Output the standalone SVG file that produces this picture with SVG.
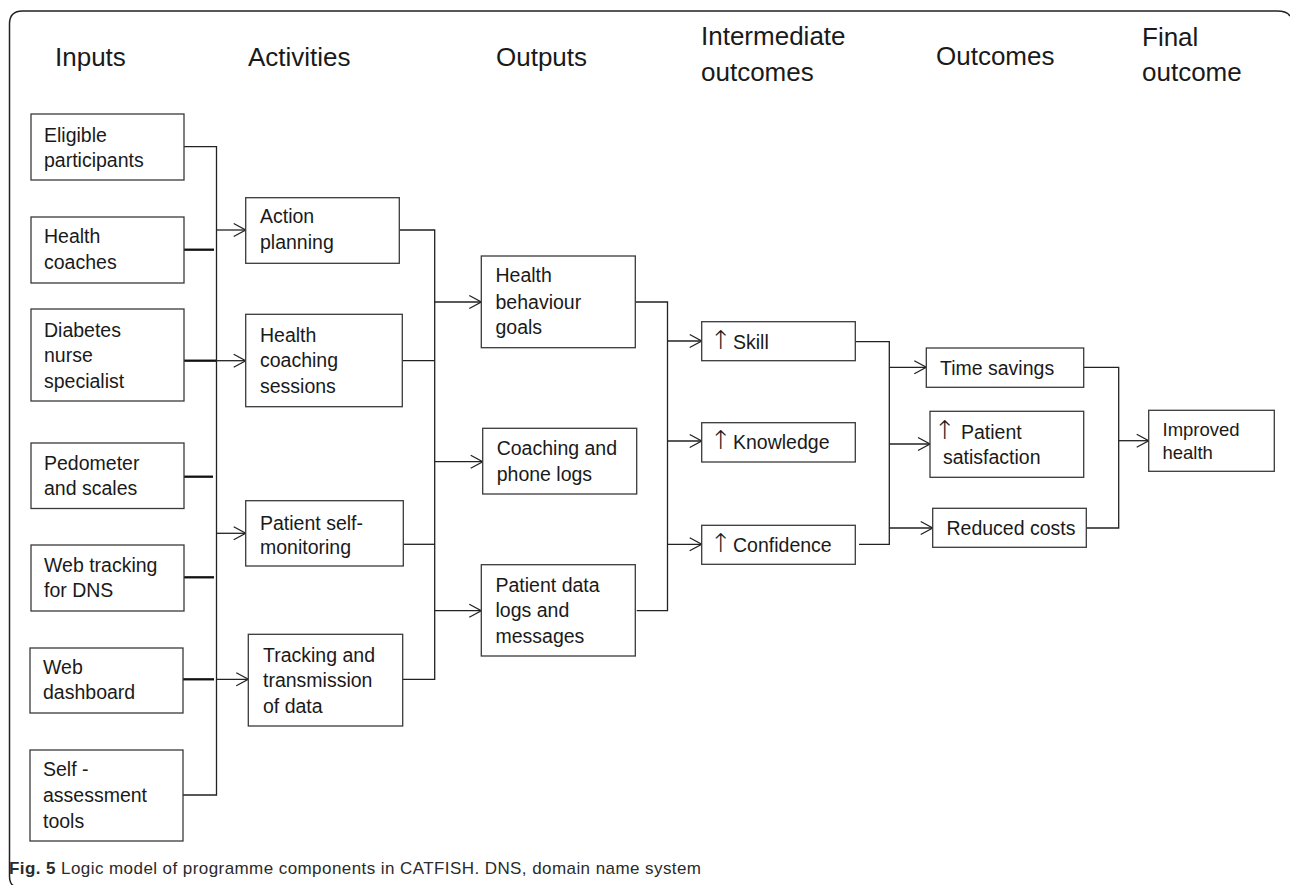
<svg xmlns="http://www.w3.org/2000/svg" width="1290" height="885" viewBox="0 0 1290 885">
<style>
  .box { fill: #ffffff; stroke: #3a3a3a; stroke-width: 1.3; }
  .t { font-family: "Liberation Sans", Arial, sans-serif; font-size: 19.5px; fill: #1a1a1a; }
  .ti { font-family: "Liberation Sans", Arial, sans-serif; font-size: 18.5px; fill: #1a1a1a; }
  .up { font-family: "DejaVu Sans", "Liberation Sans", sans-serif; font-size: 26px; font-weight: 200; fill: #1a1a1a; letter-spacing: -7px; }
  .h { font-family: "Liberation Sans", Arial, sans-serif; font-size: 26px; fill: #1a1a1a; }
  .ln { fill: none; stroke: #222222; stroke-width: 1.3; }
  .thick { fill: none; stroke: #111111; stroke-width: 2.3; }
  .arr { fill: none; stroke: #222222; stroke-width: 1.3; marker-end: url(#ah); }
  .cap { font-family: "Liberation Sans", Arial, sans-serif; font-size: 17px; fill: #2a2a2a; }
</style>
<defs>
  <marker id="ah" markerUnits="userSpaceOnUse" markerWidth="16" markerHeight="16" refX="12.5" refY="7" orient="auto" style="overflow:visible">
    <path d="M0.5,0.5 L12.5,7 L0.5,13.5" fill="none" stroke="#222222" stroke-width="1.3"/>
  </marker>
</defs>
<rect width="1290" height="885" fill="#ffffff"/>
<path id="frame" d="M14,886 Q9.5,884 9.5,876 V24 Q9.5,11 22.5,11 H1277 Q1287,11 1290,16" fill="none" stroke="#222222" stroke-width="1.5"/>

<g id="headers">
  <text class="h" x="55" y="66">Inputs</text>
  <text class="h" x="248" y="66">Activities</text>
  <text class="h" x="496" y="66">Outputs</text>
  <text class="h" x="701" y="45">Intermediate</text>
  <text class="h" x="701" y="81">outcomes</text>
  <text class="h" x="936" y="65">Outcomes</text>
  <text class="h" x="1142" y="46">Final</text>
  <text class="h" x="1142" y="81">outcome</text>
</g>

<g id="connectors">
  <path class="ln" d="M184,146.7 H216.5 V795 H183"/>
  <path class="thick" d="M184,249.7 H214"/>
  <path class="thick" d="M184,360.7 H216"/>
  <path class="thick" d="M184,476.7 H213"/>
  <path class="thick" d="M184,577.3 H214"/>
  <path class="thick" d="M183,679.3 H214"/>
  <path class="arr" d="M216.5,230 H245.7"/>
  <path class="arr" d="M216.5,360.7 H245.7"/>
  <path class="arr" d="M216.5,533.3 H245.7"/>
  <path class="arr" d="M216.5,679.3 H248.3"/>
  <path class="ln" d="M399.3,230 H434.7 V679.3 H402.7"/>
  <path class="ln" d="M402.3,360.7 H434.7"/>
  <path class="ln" d="M403.3,544.3 H434.7"/>
  <path class="arr" d="M434.7,302 H481.3"/>
  <path class="arr" d="M434.7,461.7 H482.7"/>
  <path class="arr" d="M434.7,610.7 H481.3"/>
  <path class="ln" d="M635.3,302 H667.5 V610.7 H636.7"/>
  <path class="arr" d="M667.5,341 H701.7"/>
  <path class="arr" d="M667.5,441 H701.7"/>
  <path class="arr" d="M667.5,544.3 H701.7"/>
  <path class="ln" d="M855.3,341.7 H889.3 V544.3 H859"/>
  <path class="arr" d="M889.3,367.3 H926.3"/>
  <path class="arr" d="M889.3,444 H930"/>
  <path class="arr" d="M889.3,528 H932.7"/>
  <path class="ln" d="M1083.7,367.3 H1118.7 V528 H1086.3"/>
  <path class="arr" d="M1118.7,440.7 H1148.7"/>
</g>

<g id="in-eligible">
  <rect class="box" x="31" y="114" width="153" height="66"/>
  <text class="t" x="44" y="141.7">Eligible</text>
  <text class="t" x="44" y="166.7">participants</text>
</g>
<g id="in-coaches">
  <rect class="box" x="31" y="217" width="153" height="66"/>
  <text class="t" x="44" y="243.3">Health</text>
  <text class="t" x="44" y="269">coaches</text>
</g>
<g id="in-diabetes">
  <rect class="box" x="31" y="309" width="153" height="92"/>
  <text class="t" x="44" y="336.7">Diabetes</text>
  <text class="t" x="44" y="362.3">nurse</text>
  <text class="t" x="44" y="388.3">specialist</text>
</g>
<g id="in-pedometer">
  <rect class="box" x="31" y="443" width="153" height="65.5"/>
  <text class="t" x="44" y="470">Pedometer</text>
  <text class="t" x="44" y="495">and scales</text>
</g>
<g id="in-webtracking">
  <rect class="box" x="31" y="545" width="153" height="66"/>
  <text class="t" x="44" y="571.7">Web tracking</text>
  <text class="t" x="44" y="596.7">for DNS</text>
</g>
<g id="in-dashboard">
  <rect class="box" x="30" y="648" width="153" height="65"/>
  <text class="t" x="43" y="674.3">Web</text>
  <text class="t" x="43" y="699.3">dashboard</text>
</g>
<g id="in-selfassess">
  <rect class="box" x="30" y="750" width="153" height="91"/>
  <text class="t" x="43" y="776">Self -</text>
  <text class="t" x="43" y="802.3">assessment</text>
  <text class="t" x="43" y="828.3">tools</text>
</g>

<g id="act-action">
  <rect class="box" x="245.7" y="197.7" width="153.6" height="65.6"/>
  <text class="t" x="260" y="223.3">Action</text>
  <text class="t" x="260" y="249.3">planning</text>
</g>
<g id="act-coaching">
  <rect class="box" x="245.7" y="314.3" width="156.6" height="92.4"/>
  <text class="t" x="260" y="341.7">Health</text>
  <text class="t" x="260" y="367.3">coaching</text>
  <text class="t" x="260" y="393.3">sessions</text>
</g>
<g id="act-selfmon">
  <rect class="box" x="245.7" y="500.7" width="157.6" height="65.3"/>
  <text class="t" x="260" y="530">Patient self-</text>
  <text class="t" x="260" y="554.3">monitoring</text>
</g>
<g id="act-tracking">
  <rect class="box" x="248.3" y="634.3" width="154.4" height="91.7"/>
  <text class="t" x="263" y="661.7">Tracking and</text>
  <text class="t" x="263" y="686.7">transmission</text>
  <text class="t" x="263" y="712.7">of data</text>
</g>

<g id="out-goals">
  <rect class="box" x="481.3" y="256" width="154" height="91.7"/>
  <text class="t" x="495.5" y="282.3">Health</text>
  <text class="t" x="495.5" y="308.7">behaviour</text>
  <text class="t" x="495.5" y="334.3">goals</text>
</g>
<g id="out-logs">
  <rect class="box" x="482.7" y="428.3" width="154" height="65.7"/>
  <text class="t" x="496.7" y="455">Coaching and</text>
  <text class="t" x="496.7" y="480.7">phone logs</text>
</g>
<g id="out-patientdata">
  <rect class="box" x="481.3" y="564.7" width="154" height="91.3"/>
  <text class="t" x="495.5" y="591.7">Patient data</text>
  <text class="t" x="495.5" y="616.7">logs and</text>
  <text class="t" x="495.5" y="642.7">messages</text>
</g>

<g id="im-skill">
  <rect class="box" x="701.7" y="321.7" width="153.6" height="39"/>
  <text class="t" y="349.3"><tspan class="up" x="710">↑</tspan><tspan x="727.6"> Skill</tspan></text>
</g>
<g id="im-knowledge">
  <rect class="box" x="701.7" y="422.7" width="153.6" height="39.3"/>
  <text class="t" y="449.3"><tspan class="up" x="710">↑</tspan><tspan x="727.6"> Knowledge</tspan></text>
</g>
<g id="im-confidence">
  <rect class="box" x="701.7" y="525.3" width="153.6" height="39"/>
  <text class="t" y="552.3"><tspan class="up" x="710">↑</tspan><tspan x="727.6"> Confidence</tspan></text>
</g>

<g id="oc-time">
  <rect class="box" x="926.3" y="348" width="157.4" height="39.3"/>
  <text class="t" x="940" y="375">Time savings</text>
</g>
<g id="oc-satisfaction">
  <rect class="box" x="930" y="411.3" width="153.7" height="66"/>
  <text class="t" y="439.3"><tspan class="up" x="934">↑</tspan><tspan x="955.6"> Patient</tspan></text>
  <text class="t" x="943" y="464.3">satisfaction</text>
</g>
<g id="oc-costs">
  <rect class="box" x="932.7" y="508.3" width="153.6" height="39"/>
  <text class="t" x="946.5" y="535">Reduced costs</text>
</g>

<g id="final-health">
  <rect class="box" x="1148.7" y="410.3" width="125.6" height="61"/>
  <text class="ti" x="1162.5" y="435.7">Improved</text>
  <text class="ti" x="1162.5" y="459">health</text>
</g>

<text class="cap" x="9" y="874" textLength="692" lengthAdjust="spacing"><tspan font-weight="bold">Fig. 5</tspan> Logic model of programme components in CATFISH. DNS, domain name system</text>
</svg>
